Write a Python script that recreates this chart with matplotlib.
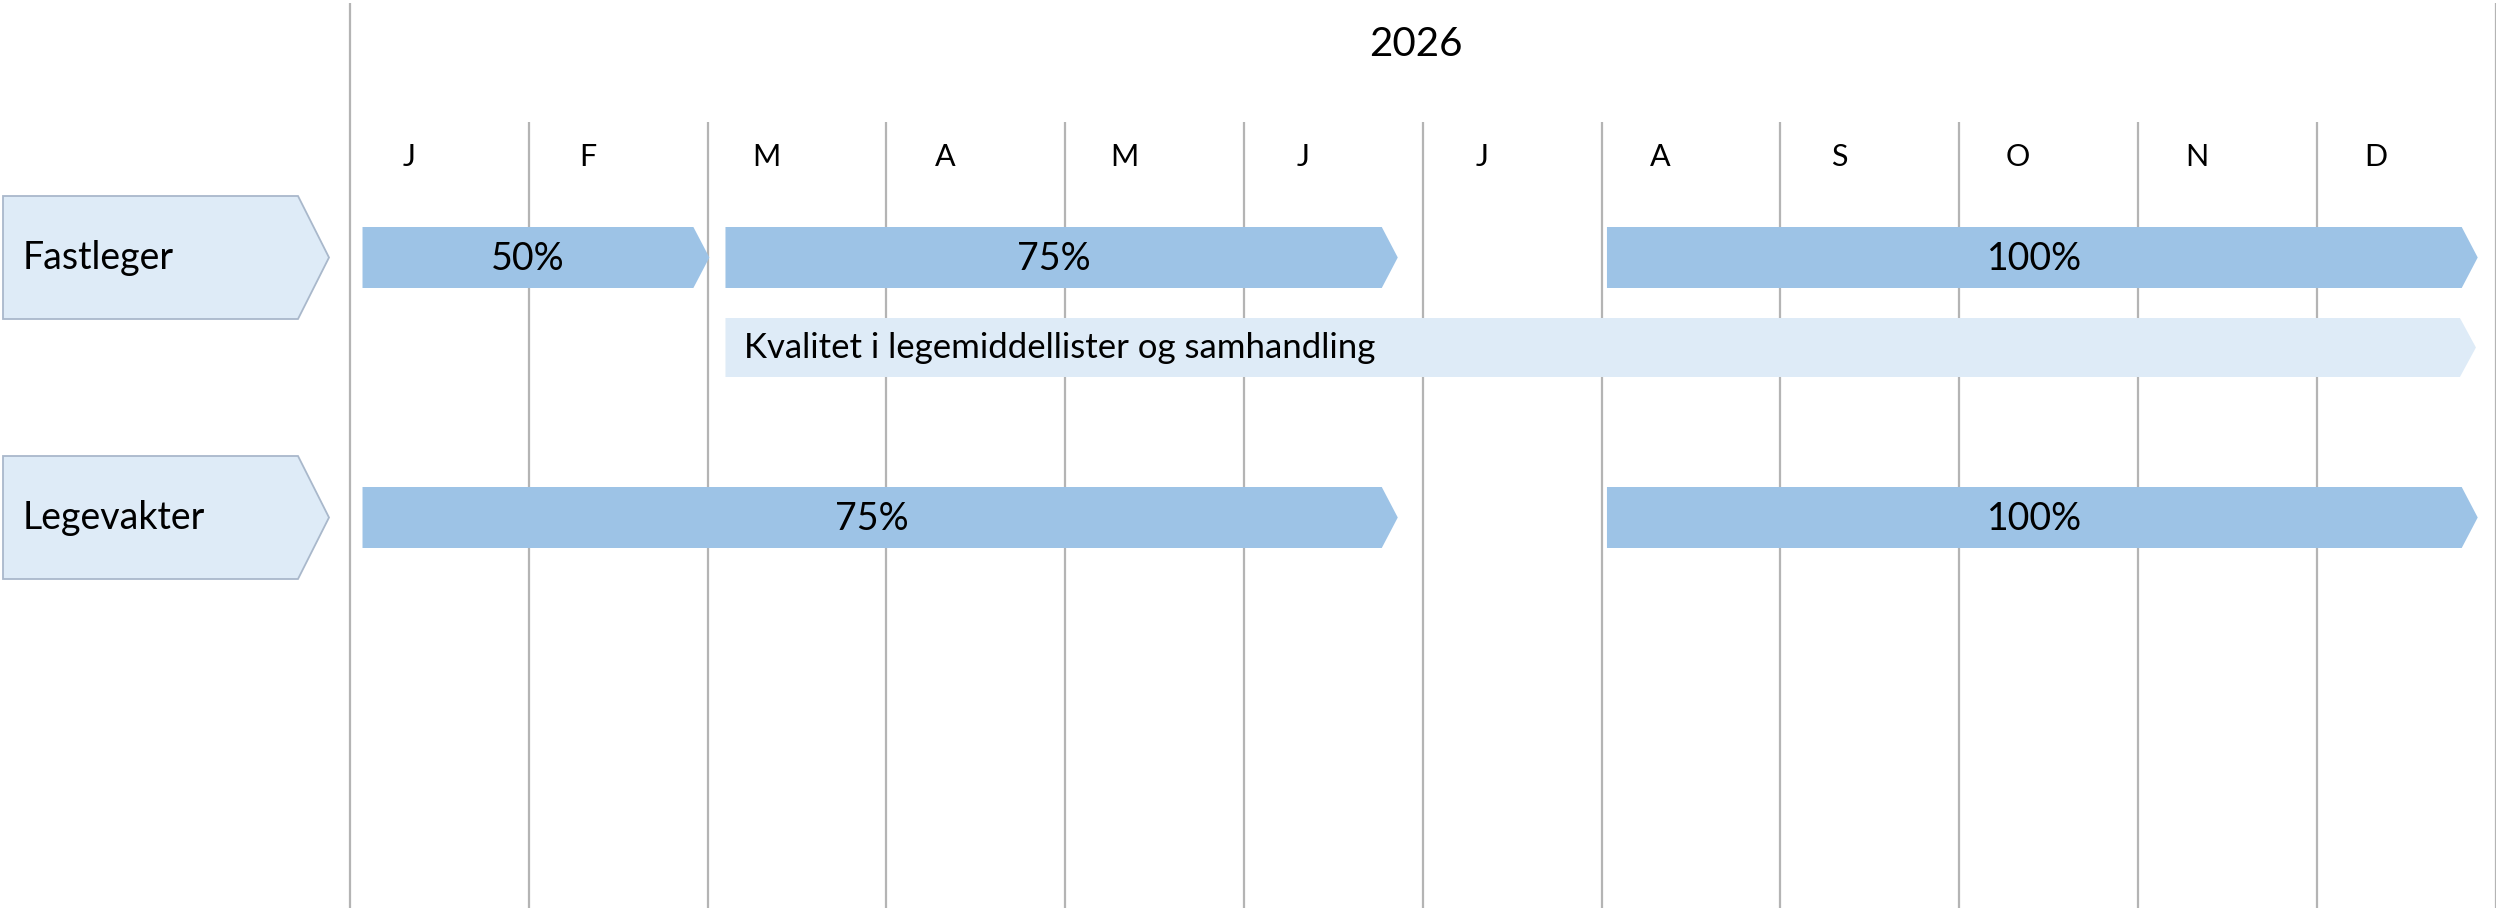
import matplotlib
matplotlib.use("Agg")
import matplotlib.pyplot as plt
from matplotlib.patches import Polygon

plt.rcParams["font.family"] = ["Lato", "DejaVu Sans"]

# data
year = "2026"
months = ["J", "F", "M", "A", "M", "J", "J", "A", "S", "O", "N", "D"]
rows = ["Fastleger", "Legevakter"]

bar_rows = ["Fastleger", "Fastleger", "Fastleger", "Legevakter", "Legevakter"]
bar_start = [0.07, 2.10, 7.03, 0.07, 7.03]   # in months from 1 Jan
bar_end = [2.01, 5.86, 11.90, 5.86, 11.90]
bar_labels = ["50%", "75%", "100%", "75%", "100%"]

note_text = "Kvalitet i legemiddellister og samhandling"
note_start = 2.10
note_end = 11.89

# layout (pixels)
W, H = 2496, 915
x0 = 350.0        # pixel of 1 Jan
mw = 178.8        # pixels per month
row_y = {"Fastleger": 257.5, "Legevakter": 517.5}
bar_h = 61
note_y = 347.5
note_h = 59
head = 16 / mw    # arrow head length in months

dark = "#9DC3E6"
light = "#DEEBF7"
grid = "#B4B4B4"


def px(x):
    return (x - x0) / mw


def arrow_bar(ax, xs, xe, yc, h, color):
    pts = [(xs, yc - h / 2), (xe - head, yc - h / 2), (xe, yc),
           (xe - head, yc + h / 2), (xs, yc + h / 2)]
    ax.add_patch(Polygon(pts, closed=True, facecolor=color, edgecolor="none", zorder=3))


fig = plt.figure(figsize=(W / 100, H / 100), dpi=100)
ax = fig.add_axes([0, 0, 1, 1])
ax.set_xlim(px(0), px(W))
ax.set_ylim(H, 0)
ax.axis("off")

# grid lines
for k in range(len(months) + 1):
    top = 3 if k in (0, len(months)) else 122
    ax.plot([k, k], [top, 908], color=grid, lw=1.6, zorder=1, solid_capstyle="butt")

ax.text(len(months) / 2 - 0.04, 44, year, ha="center", va="center", fontsize=29)
for k, m in enumerate(months):
    ax.text(k + 0.33, 157, m, ha="center", va="center", fontsize=22)

# row label chevrons
for r in rows:
    yc = row_y[r]
    hh = 61.5
    pts = [(px(3), yc - hh), (px(298), yc - hh), (px(329), yc),
           (px(298), yc + hh), (px(3), yc + hh)]
    ax.add_patch(Polygon(pts, closed=True, facecolor=light, edgecolor="#A9B8CB",
                         lw=1.3, zorder=3))
    ax.text(px(23), yc + 1, r, ha="left", va="center", fontsize=27)

# bars
for r, s, e, lab in zip(bar_rows, bar_start, bar_end, bar_labels):
    yc = row_y[r]
    arrow_bar(ax, s, e, yc, bar_h, dark)
    ax.text((s + e - head) / 2, yc + 1, lab, ha="center", va="center", fontsize=27, zorder=4)

arrow_bar(ax, note_start, note_end, note_y, note_h, light)
ax.text(note_start + 19 / mw, note_y, note_text, ha="left", va="center", fontsize=25, zorder=4)

fig.savefig("out.png", dpi=100)
